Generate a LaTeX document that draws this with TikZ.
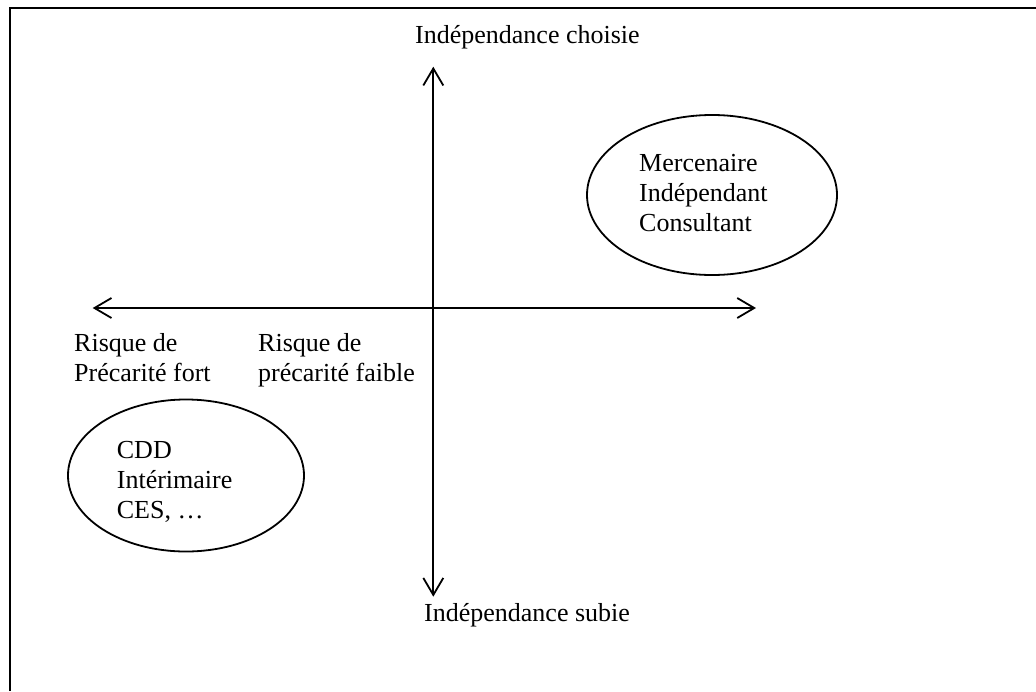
\documentclass[tikz,border=0pt]{standalone}
\usepackage{fontspec}
\setmainfont{Liberation Serif}
\usetikzlibrary{arrows.meta,shapes.geometric}
\tikzset{
  axis/.style={line width=1.8pt,{Straight Barb[length=17pt,width=20pt,line width=1.8pt]}-{Straight Barb[length=17pt,width=20pt,line width=1.8pt]}},
  lbl/.style={anchor=base west,inner sep=0pt,align=left,font=\fontsize{26}{30}\selectfont},
  oval/.style={draw,ellipse,line width=1.8pt,inner sep=0pt},
}
\begin{document}
\begin{tikzpicture}[x=1pt,y=-1pt]
\useasboundingbox (0,0) rectangle (1036,691);
% frame (only top and left edges visible)
\draw[line width=2pt] (10,691) -- (10,8.3) -- (1036,8.3);
% axes
\coordinate (vtop) at (433.3,66.7);
\coordinate (vbot) at (433.3,596.7);
\coordinate (hleft) at (92.7,308);
\coordinate (hright) at (756,308);
\draw[axis] (vtop) -- (vbot);
\draw[axis] (hleft) -- (hright);
% axis labels (base anchor = baseline of the last line)
\node[lbl] (choisie) at (415,43.3) {Indépendance choisie};
\node[lbl] (subie) at (424,621.7) {Indépendance subie};
\node[lbl] (fort) at (74,381.7) {Risque de\\Précarité fort};
\node[lbl] (faible) at (258,381.7) {Risque de\\précarité faible};
% ellipses
\node[oval,minimum width=250pt,minimum height=160pt] (e1) at (712,195) {};
\node[lbl] (t1) at (639,231.7) {Mercenaire\\Indépendant\\Consultant};
\node[oval,minimum width=236pt,minimum height=152pt] (e2) at (186,475.5) {};
\node[lbl] (t2) at (116.7,518) {CDD\\Intérimaire\\CES, …};
\end{tikzpicture}
\end{document}
